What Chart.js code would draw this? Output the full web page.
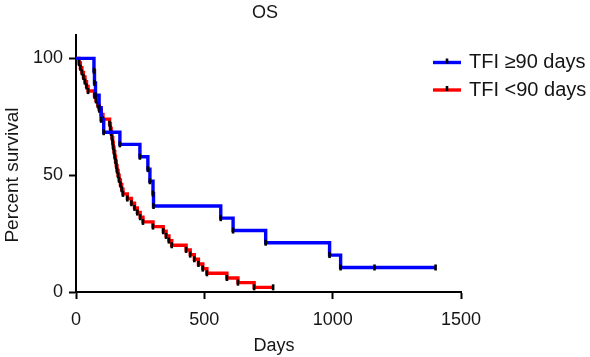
<!DOCTYPE html>
<html>
<head>
<meta charset="utf-8">
<script src="https://cdn.jsdelivr.net/npm/chart.js@4"></script>
<style>
  html, body { margin: 0; padding: 0; background: #fff; }
  #wrap { width: 590px; height: 357px; position: relative; }
</style>
</head>
<body>
<div id="wrap"><canvas id="c" width="590" height="357"></canvas></div>
<script>
// ---- Data ----
const chartTitle = "OS";
const xAxisTitle = "Days";
const yAxisTitle = "Percent survival";
const seriesNames = ["TFI \u226590 days", "TFI <90 days"];

const xTicks = [0, 500, 1000, 1500];
const yTicks = [0, 50, 100];

// TFI >= 90 days (blue)
const blueDays = [0, 70, 72, 76, 90, 98, 108, 171, 249, 280, 288, 300, 302, 564, 612, 739, 988, 1031, 1163, 1401];
const blueSurv = [100, 94.7, 89.5, 84.2, 78.9, 73.7, 68.4, 63.2, 57.9, 52.6, 47.4, 42.1, 36.8, 31.6, 26.3, 21.1, 15.8, 10.5, 10.5, 10.5];

// TFI < 90 days (red)
const redDays = [0, 12, 17, 23, 29, 35, 41, 47, 72, 78, 85, 91, 98, 105, 131, 134, 137, 140, 143, 145,
                 148, 151, 154, 157, 160, 164, 168, 173, 178, 183, 200, 216, 228, 239, 250, 261, 300,
                 340, 351, 362, 373, 429, 445, 461, 477, 494, 510, 588, 631, 694, 768];
const redSurv = [100, 98, 96, 94, 92, 90, 88, 86, 84, 82, 80, 78, 76, 74, 72, 70, 68, 66, 64, 62,
                 60, 58, 56, 54, 52, 50, 48, 46, 44, 42, 40, 38, 36, 34, 32, 30, 28,
                 26, 24, 22, 20, 18, 16, 14, 12, 10, 8, 6, 4, 2, 2];

const seriesColors = ["#0000ff", "#ff0000"];

// ---- Build ----
const FONT = "'Liberation Sans', Arial, Helvetica, sans-serif";
const TEXT = '#151515';
const toPts = (xs, ys) => xs.map((x, i) => ({ x: x, y: ys[i] }));

function makeSet(label, xs, ys, color) {
  return {
    label: label,
    data: toPts(xs, ys),
    borderColor: color,
    backgroundColor: color,
    borderWidth: 3.4,
    stepped: 'before',
    fill: false,
    pointStyle: 'line',
    rotation: 90,
    pointRadius: (ctx) => ctx.dataIndex === 0 ? 0 : 3,
    pointHoverRadius: 0,
    pointBorderColor: '#000',
    pointBackgroundColor: '#000',
    pointBorderWidth: 2.6
  };
}

const textPlugin = {
  id: 'kmText',
  afterDraw(chart) {
    const ctx = chart.ctx;
    ctx.save();
    // title
    ctx.fillStyle = TEXT;
    ctx.font = "18px " + FONT;
    ctx.textAlign = 'center';
    ctx.textBaseline = 'middle';
    ctx.fillText(chartTitle, 265, 13);
    // x axis title
    ctx.fillText(xAxisTitle, 274, 346);
    // legend
    const rows = [62.5, 90];
    seriesNames.forEach((name, i) => {
      const y = rows[i];
      ctx.strokeStyle = seriesColors[i];
      ctx.lineWidth = 3.4;
      ctx.beginPath();
      ctx.moveTo(433, y);
      ctx.lineTo(461, y);
      ctx.stroke();
      ctx.strokeStyle = '#000';
      ctx.lineWidth = 2.6;
      ctx.beginPath();
      ctx.moveTo(447, y - 4);
      ctx.lineTo(447, y + 1);
      ctx.stroke();
      ctx.fillStyle = TEXT;
      ctx.font = "20px " + FONT;
      ctx.textBaseline = 'middle';
      ctx.textAlign = 'left';
      ctx.fillText(name, 469, y);
    });
    // y axis title
    ctx.translate(13, 175);
    ctx.rotate(-Math.PI / 2);
    ctx.font = "19px " + FONT;
    ctx.textAlign = 'center';
    ctx.textBaseline = 'middle';
    ctx.fillStyle = TEXT;
    ctx.fillText(yAxisTitle, 0, 0);
    ctx.restore();
  }
};

new Chart(document.getElementById('c'), {
  type: 'line',
  data: {
    datasets: [
      makeSet(seriesNames[0], blueDays, blueSurv, seriesColors[0]),
      makeSet(seriesNames[1], redDays, redSurv, seriesColors[1])
    ]
  },
  options: {
    responsive: false,
    animation: false,
    devicePixelRatio: 1,
    layout: { padding: { left: 0, right: 129, top: 35, bottom: 0 } },
    plugins: {
      legend: { display: false },
      tooltip: { enabled: false },
      title: { display: false }
    },
    scales: {
      x: {
        type: 'linear',
        min: 0,
        max: 1500,
        afterFit(scale) { scale.height = 65; },
        afterBuildTicks(scale) { scale.ticks = xTicks.map(v => ({ value: v })); },
        grid: { drawOnChartArea: false, drawTicks: true, tickLength: 7, tickColor: '#000', tickWidth: 2 },
        border: { display: true, color: '#000', width: 2 },
        ticks: {
          color: TEXT, font: { family: FONT, size: 18 }, padding: 10, maxRotation: 0,
          callback: (v) => String(v)
        }
      },
      y: {
        type: 'linear',
        min: 0,
        max: 110,
        afterFit(scale) { scale.width = 76; },
        afterBuildTicks(scale) { scale.ticks = yTicks.map(v => ({ value: v })); },
        grid: { drawOnChartArea: false, drawTicks: true, tickLength: 7, tickColor: '#000', tickWidth: 2 },
        border: { display: true, color: '#000', width: 2 },
        ticks: { color: TEXT, font: { family: FONT, size: 18 }, padding: 6, callback: (v) => String(v) }
      }
    }
  },
  plugins: [textPlugin]
});
</script>
</body>
</html>
